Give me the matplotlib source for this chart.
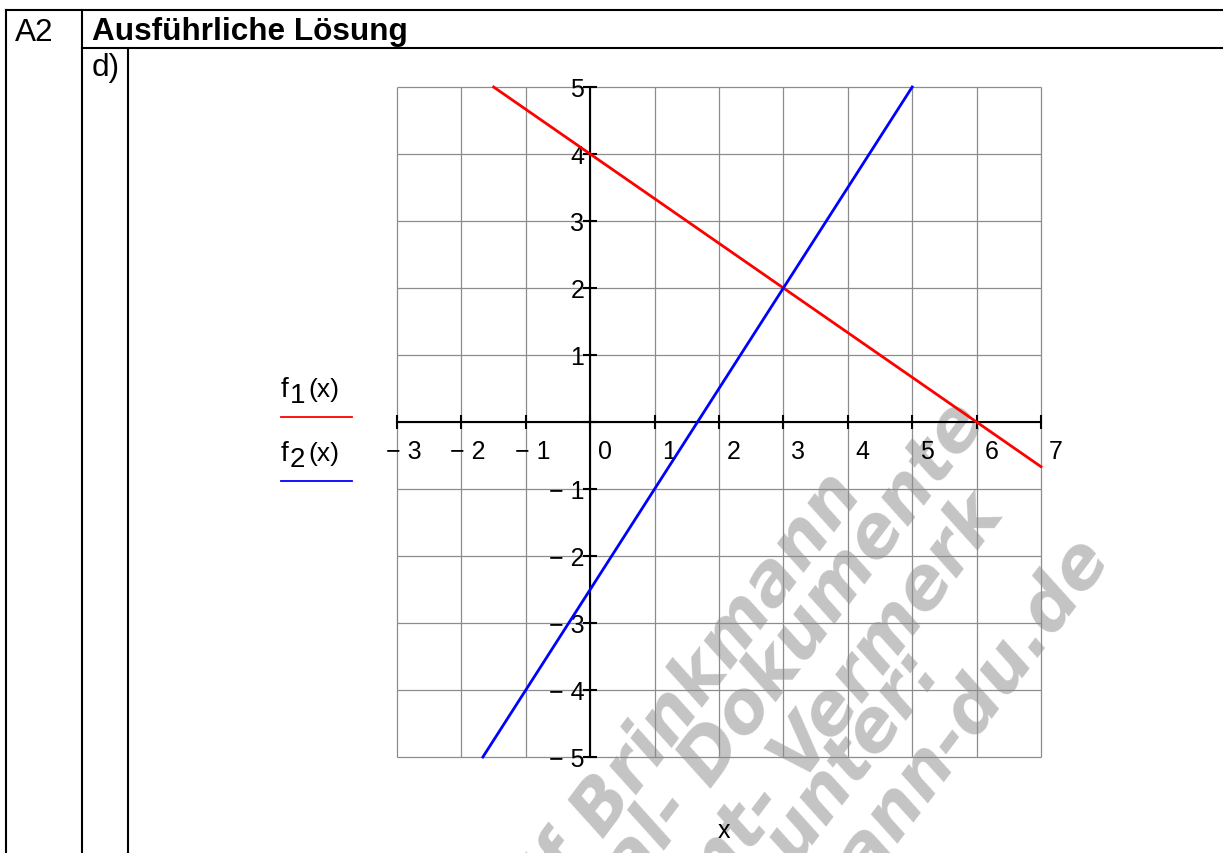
import matplotlib
matplotlib.use("Agg")
import matplotlib.pyplot as plt
from matplotlib.lines import Line2D

W, H = 1223, 854
FONT = "Liberation Sans"

# Function f1 (red), read points
f1_x = [-1.5, 0, 3, 6, 7]
f1_y = [5, 4, 2, 0, -0.667]
# Function f2 (blue), read points
f2_x = [-5 / 3, 0, 1, 3, 5]
f2_y = [-5, -2.5, -1, 2, 5]

x_ticks = [-3, -2, -1, 0, 1, 2, 3, 4, 5, 6, 7]
y_ticks = [-5, -4, -3, -2, -1, 1, 2, 3, 4, 5]

legend_names = [("f", "1", "(x)"), ("f", "2", "(x)")]
legend_colors = ["#ff0000", "#0000ff"]

header_task = "A2"
header_title = "Ausführliche Lösung"
part_label = "d)"
axis_label = "x"

watermark_lines = ["Ralf Brinkmann", "Original- Dokumente", "Dokument- Vermerk",
                   "unter:", "www.brinkmann-du.de"]


def fx(x):
    return x / W


def fy(y):
    return 1 - y / H


fig = plt.figure(figsize=(W / 100, H / 100), dpi=100)
fig.patch.set_facecolor("white")

# diagonal watermark in the background
wm_ends = [(864, 494), (987, 422), (1005, 514), (942, 668), (1110, 554)]
for text, (ex, ey) in zip(watermark_lines, wm_ends):
    fig.text(fx(ex), fy(ey), text, rotation=53, rotation_mode="anchor",
             ha="right", va="baseline", fontsize=51, fontweight="bold",
             fontstyle="oblique", family="DejaVu Sans", color="#c4c4c4",
             zorder=-5)

# table frame
lw_frame = 1.5
frame = [
    ((5.7, 10.7), (1230, 10.7)),
    ((5.7, 10.7), (5.7, 860)),
    ((81.7, 10.7), (81.7, 860)),
    ((81.7, 49), (1230, 49)),
    ((128, 49), (128, 860)),
]
for (x0, y0), (x1, y1) in frame:
    fig.add_artist(Line2D([fx(x0), fx(x1)], [fy(y0), fy(y1)],
                          transform=fig.transFigure, color="black", lw=lw_frame))

fig.text(fx(15), fy(41), header_task, fontsize=22.7, family=FONT, va="baseline")
fig.text(fx(92), fy(40), header_title, fontsize=22.7, family=FONT,
         fontweight="bold", va="baseline")
fig.text(fx(92), fy(76), part_label, fontsize=22.7, family=FONT, va="baseline")

# plot area
left, right, top, bottom = 397, 1041, 88, 758
ax = fig.add_axes([fx(left), fy(bottom), (right - left) / W, (bottom - top) / H])
ax.patch.set_visible(False)
ax.set_xlim(-3, 7)
ax.set_ylim(-5, 5)

grid_c = "#8c8c8c"
ax.vlines(x_ticks, -5, 5, colors=grid_c, lw=0.9, clip_on=False, zorder=1)
ax.hlines(y_ticks + [0], -3, 7, colors=grid_c, lw=0.9, clip_on=False, zorder=1)

for s in ("top", "right"):
    ax.spines[s].set_visible(False)
ax.spines["left"].set_position(("data", 0))
ax.spines["bottom"].set_position(("data", 0))
for s in ("left", "bottom"):
    ax.spines[s].set_color("black")
    ax.spines[s].set_linewidth(1.5)
    ax.spines[s].set_zorder(2)
ax.set_xticks(x_ticks)
ax.set_yticks(y_ticks + [0])
ax.tick_params(direction="inout", length=9.5, width=1.5, color="black",
               labelbottom=False, labelleft=False)

ax.plot(f1_x, f1_y, color=legend_colors[0], lw=2.0, zorder=4, clip_on=False)
ax.plot(f2_x, f2_y, color=legend_colors[1], lw=2.0, zorder=4, clip_on=False)


def num(v):
    return f"\u2212 {abs(v)}" if v < 0 else f"{v}"


for v in x_ticks:
    dx = -11 if v < 0 else 8
    ax.annotate(num(v), (v, 0), xytext=(dx, -36), textcoords="offset pixels",
                ha="left", va="baseline", fontsize=18, family=FONT)
for v in y_ticks:
    ax.annotate(num(v), (0, v), xytext=(-6, -9), textcoords="offset pixels",
                ha="right", va="baseline", fontsize=18, family=FONT)

fig.text(fx(724), fy(838), axis_label, fontsize=18, family=FONT,
         ha="center", va="baseline")

# legend
for i, ((base, sub, arg), col) in enumerate(zip(legend_names, legend_colors)):
    by = 397 + 64 * i
    fig.text(fx(281), fy(by), base, fontsize=20, family=FONT, va="baseline")
    fig.text(fx(290), fy(by + 6), sub, fontsize=20, family=FONT, va="baseline")
    fig.text(fx(308), fy(by), arg, fontsize=19, family=FONT, va="baseline")
    ly = 418 + 64 * i
    fig.add_artist(Line2D([fx(281), fx(352)], [fy(ly), fy(ly)],
                          transform=fig.transFigure, color=col, lw=1.3))

fig.savefig("out.png", dpi=100, facecolor="white")
